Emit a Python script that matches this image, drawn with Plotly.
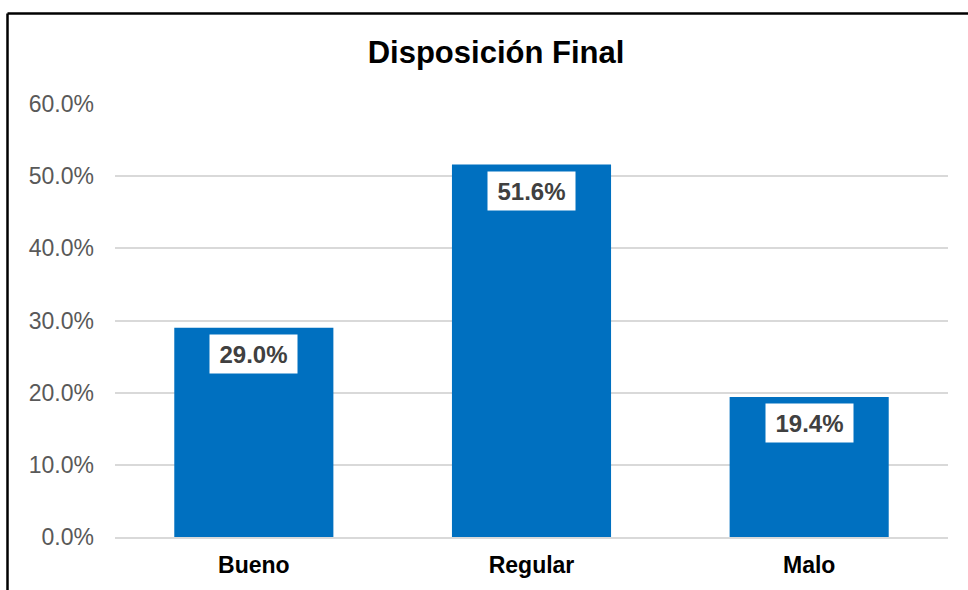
import plotly.graph_objects as go

# Final disposition shares by category
categories = ["Bueno", "Regular", "Malo"]
shares = [0.290, 0.516, 0.194]
y_ticks = [0.0, 0.1, 0.2, 0.3, 0.4, 0.5, 0.6]
title_text = "Disposición Final"

FONT = "Liberation Sans, Arial, sans-serif"
BAR_BLUE = "#0070C0"
GRID = "#d9d9d9"

W, H = 968, 590
ML, MR, MT, MB = 115, 20, 104, 53
plot_w = W - ML - MR
plot_h = H - MT - MB


def px_to_paper_x(px):
    return (px - ML) / plot_w


def px_to_paper_y(py):
    return (H - MB - py) / plot_h


fig = go.Figure(
    go.Bar(
        x=categories,
        y=shares,
        marker=dict(color=BAR_BLUE, line=dict(width=0)),
        width=0.573,
        hoverinfo="skip",
    )
)

# Value labels in white boxes just under each bar top
for cat, val in zip(categories, shares):
    fig.add_annotation(
        x=cat,
        y=val,
        text=f"<b>{val * 100:.1f}%</b>",
        showarrow=False,
        yanchor="top",
        yshift=-6,
        width=77,
        height=28,
        font=dict(family=FONT, size=24, color="#404040"),
        bgcolor="white",
        borderpad=5,
    )

# Outer frame (left and top edges)
left = px_to_paper_x(7.5)
top = px_to_paper_y(13.5)
fig.add_shape(type="line", xref="paper", yref="paper",
              x0=left, y0=top, x1=px_to_paper_x(W + 10), y1=top,
              line=dict(color="black", width=2.5))
fig.add_shape(type="line", xref="paper", yref="paper",
              x0=left, y0=top, x1=left, y1=px_to_paper_y(H + 10),
              line=dict(color="black", width=2.5))

fig.update_layout(
    width=W,
    height=H,
    margin=dict(l=ML, r=MR, t=MT, b=MB),
    paper_bgcolor="white",
    plot_bgcolor="white",
    showlegend=False,
    bargap=0.427,
    title=dict(
        text=f"<b>{title_text}</b>",
        x=496 / W,
        xref="container",
        xanchor="center",
        y=1 - 52 / H,
        yref="container",
        yanchor="middle",
        font=dict(family=FONT, size=31, color="black"),
    ),
    xaxis=dict(
        showgrid=False,
        showline=True,
        linecolor=GRID,
        linewidth=2,
        ticks="",
        tickfont=dict(family=FONT, size=23, color="black", weight="bold"),
        ticklabelstandoff=6,
    ),
    yaxis=dict(
        range=[0, 0.6],
        tickvals=y_ticks,
        tickformat=".1%",
        showgrid=True,
        gridcolor=GRID,
        gridwidth=1.5,
        zeroline=False,
        showline=False,
        ticks="",
        tickfont=dict(family=FONT, size=23, color="#595959"),
        ticklabelstandoff=20,
    ),
)

fig.write_html("out.html")
